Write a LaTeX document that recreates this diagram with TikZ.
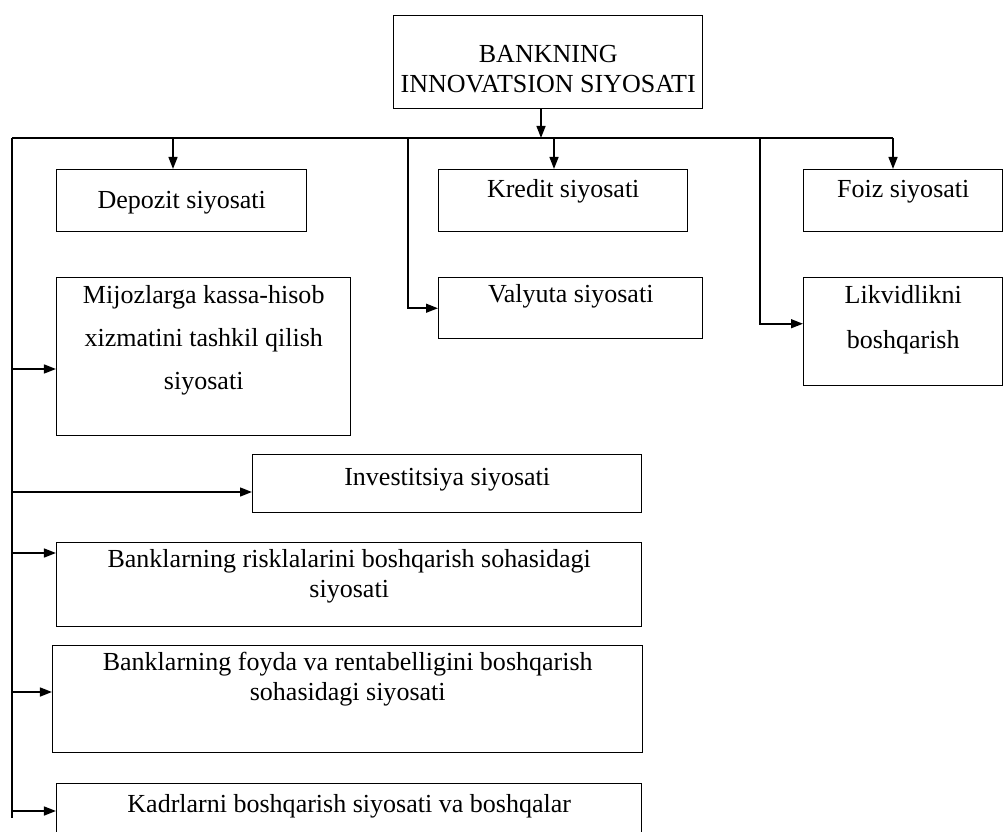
\documentclass[tikz,border=0pt]{standalone}
\usepackage{fontspec}
\setmainfont{Liberation Serif}
\usetikzlibrary{arrows.meta}

\newlength{\px}
\setlength{\px}{0.025cm}
% box text: width, height, first baseline from top, text
\newcommand{\cell}[4]{\parbox[c][#2\px][t]{#1\px}{\centering\rule{0pt}{#3\px}#4\par}}

\begin{document}
\begin{tikzpicture}[x=0.025cm, y=-0.025cm,
  blok/.style={draw, line width=1.05pt, inner sep=0pt, anchor=north west,
               font=\fontsize{18.5}{21.3}\selectfont},
  wire/.style={line width=1.4pt},
  arr/.style={wire, -{Triangle[length=0.3cm,width=0.22cm]}}]
\useasboundingbox (0,0) rectangle (1004,832);

\node[blok] (bank) at (393,15) {\cell{309}{93}{47}{BANKNING\\ INNOVATSION SIYOSATI}};
\node[blok] (depozit) at (56,169) {\cell{250}{62}{39}{Depozit siyosati}};
\node[blok] (kredit) at (438,169) {\cell{249}{62}{28}{Kredit siyosati}};
\node[blok] (foiz) at (803,169) {\cell{199}{62}{28}{Foiz siyosati}};
\node[blok] (mijoz) at (56,277) {\cell{294}{158}{26}{Mijozlarga kassa-hisob\\[13\px] xizmatini tashkil qilish\\[13\px] siyosati}};
\node[blok] (valyuta) at (438,277) {\cell{264}{61}{25}{Valyuta siyosati}};
\node[blok] (likvid) at (803,277) {\cell{199}{108}{26}{Likvidlikni\\[15\px] boshqarish}};
\node[blok] (invest) at (252,454) {\cell{389}{58}{31}{Investitsiya siyosati}};
\node[blok] (risk) at (56,542) {\cell{585}{84}{25}{Banklarning risklalarini boshqarish sohasidagi\\ siyosati}};
\node[blok] (foyda) at (52,645) {\cell{590}{107}{25}{Banklarning foyda va rentabelligini boshqarish\\ sohasidagi siyosati}};
\node[blok] (kadr) at (56,783) {\cell{585}{70}{29}{Kadrlarni boshqarish siyosati va boshqalar}};

% points on the bus line
\coordinate (busL) at (12,138);
\coordinate (busM) at (408,138);
\coordinate (busN) at (760,138);
\coordinate (bT) at (541,138);
\coordinate (dT) at (173,138);
\coordinate (kT) at (554,138);
\coordinate (fT) at (893,138);
\coordinate (spineEnd) at (12,818);
\coordinate (s1) at (12,369);
\coordinate (s2) at (12,492);
\coordinate (s3) at (12,553);
\coordinate (s4) at (12,692);
\coordinate (s5) at (12,811);

\draw[wire] (busL) -- (fT);
\draw[wire] (busL) -- (spineEnd);
\draw[arr] (bT |- bank.south) -- (bT);
\draw[arr] (dT) -- (dT |- depozit.north);
\draw[arr] (kT) -- (kT |- kredit.north);
\draw[arr] (fT) -- (fT |- foiz.north);
\draw[arr] (busM) |- (valyuta.west);
\draw[arr] (busN) |- ([yshift=0.2cm]likvid.west);

\draw[arr] (s1) -- (s1 -| mijoz.west);
\draw[arr] (s2) -- (s2 -| invest.west);
\draw[arr] (s3) -- (s3 -| risk.west);
\draw[arr] (s4) -- (s4 -| foyda.west);
\draw[arr] (s5) -- (s5 -| kadr.west);
\end{tikzpicture}
\end{document}
